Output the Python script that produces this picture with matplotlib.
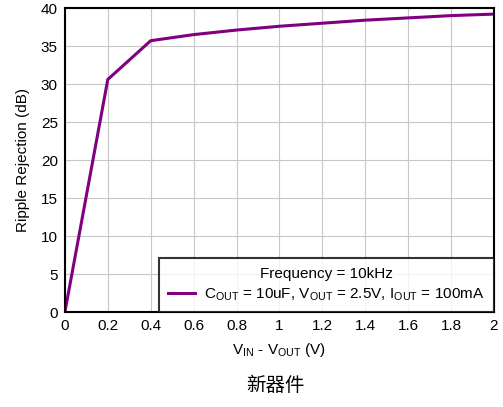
import matplotlib
matplotlib.use("Agg")
import matplotlib.pyplot as plt

plt.rcParams['font.family'] = ['Liberation Sans', 'Noto Sans CJK SC', 'DejaVu Sans']

vdrop = [0, 0.2, 0.4, 0.6, 0.8, 1.0, 1.2, 1.4, 1.6, 1.8, 2.0]
psrr = [0, 30.6, 35.7, 36.5, 37.1, 37.6, 38.0, 38.4, 38.7, 39.0, 39.2]
xticks = [0, 0.2, 0.4, 0.6, 0.8, 1, 1.2, 1.4, 1.6, 1.8, 2]
xticklabels = ['0', '0.2', '0.4', '0.6', '0.8', '1', '1.2', '1.4', '1.6', '1.8', '2']
yticks = [0, 5, 10, 15, 20, 25, 30, 35, 40]

fig = plt.figure(figsize=(5.03, 4.07), dpi=100)
ax = fig.add_axes([0.129, 0.2334, 0.853, 0.7469])

ax.plot(vdrop, psrr, color='#800080', lw=2.2,
        label=r'C$_{\mathregular{OUT}}$ = 10uF, V$_{\mathregular{OUT}}$ = 2.5V, I$_{\mathregular{OUT}}$ = 100mA')

ax.set_xlim(0, 2)
ax.set_ylim(0, 40)
ax.set_xticks(xticks)
ax.set_xticklabels(xticklabels)
ax.set_yticks(yticks)
ax.tick_params(labelsize=11, length=0, pad=5)
ax.grid(True, color='#c8c8c8', lw=0.8)
for s in ax.spines.values():
    s.set_linewidth(1.5)

ax.set_xlabel(r'V$_{\mathregular{IN}}$ - V$_{\mathregular{OUT}}$ (V)', fontsize=11, labelpad=6)
ax.set_ylabel('Ripple Rejection (dB)', fontsize=11, labelpad=8)

leg = ax.legend(loc='lower right', title='Frequency = 10kHz', fontsize=11, title_fontsize=11,
                frameon=True, fancybox=False, borderaxespad=0, handlelength=1.8,
                handletextpad=0.6, borderpad=0.6, labelspacing=0.35)
leg.get_frame().set_edgecolor('black')
leg.get_frame().set_linewidth(1.5)

fig.text(0.547, 0.052, '新器件', ha='center', va='center', fontsize=14,
         family=['Noto Sans CJK SC', 'DejaVu Sans'])

fig.savefig('out.png', dpi=100)
